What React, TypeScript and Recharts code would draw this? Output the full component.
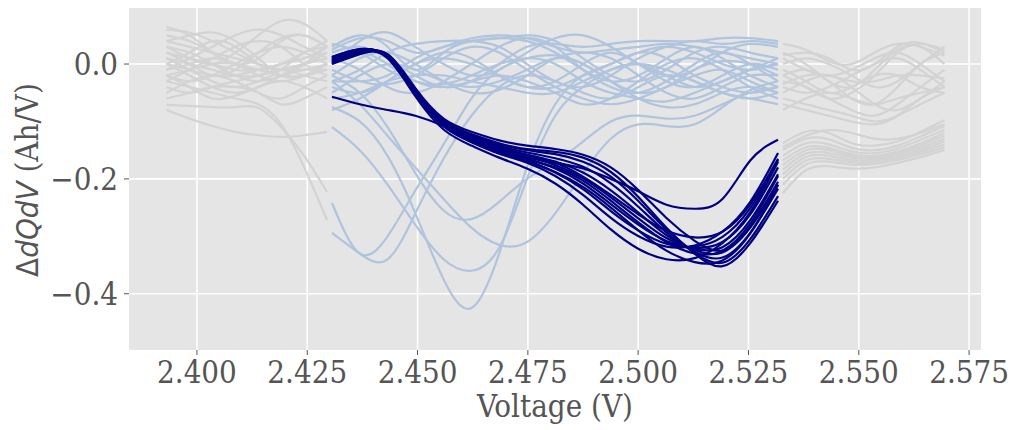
import React from 'react';
import { LineChart, Line, XAxis, YAxis, CartesianGrid, Label } from 'recharts';

// ---- axes ----
const X_TICKS = [2.4, 2.425, 2.45, 2.475, 2.5, 2.525, 2.55, 2.575];
const Y_TICKS = [0, -0.2, -0.4];
const X_DOMAIN = [2.3846, 2.5777];
const Y_DOMAIN = [-0.498, 0.0976];

// ---- x grids ----
const GRAY_LEFT_X = [2.3931, 2.3983, 2.4035, 2.4087, 2.4139, 2.4191, 2.4243, 2.4295];
const WINDOW_X = [2.4306, 2.4369, 2.4432, 2.4495, 2.4559, 2.4622, 2.4685, 2.4748, 2.4812, 2.4875, 2.4938, 2.5001, 2.5064, 2.5128, 2.5191, 2.5254, 2.5317];
const GRAY_RIGHT_X = [2.5328, 2.538, 2.5432, 2.5484, 2.5536, 2.5588, 2.564, 2.5694];

// ---- gray curves, left of the window ----
const GRAY_LEFT: number[][] = [
  [0.065, 0.05, 0.02, 0.0, 0.01, 0.04, 0.05, 0.03],
  [0.04, 0.05, 0.055, 0.04, 0.01, -0.02, -0.02, 0.0],
  [0.03, 0.01, 0.0, 0.02, 0.05, 0.075, 0.07, 0.04],
  [0.02, 0.0, -0.02, -0.01, 0.02, 0.045, 0.05, 0.03],
  [0.0, 0.02, 0.04, 0.03, 0.0, -0.02, 0.0, 0.03],
  [-0.01, 0.0, 0.01, 0.0, -0.02, -0.03, -0.02, 0.0],
  [0.02, 0.01, 0.0, -0.01, -0.01, 0.0, 0.01, 0.03],
  [0.03, 0.02, 0.0, -0.02, -0.03, -0.02, -0.01, -0.01],
  [-0.02, -0.03, -0.02, 0.0, 0.02, 0.03, 0.02, 0.0],
  [-0.03, -0.01, 0.01, 0.03, 0.04, 0.03, 0.0, -0.02],
  [-0.04, -0.05, -0.04, -0.03, -0.02, -0.01, -0.02, -0.03],
  [0.01, -0.01, -0.03, -0.04, -0.03, -0.01, 0.02, 0.03],
  [-0.05, -0.03, -0.02, -0.03, -0.05, -0.06, -0.04, -0.02],
  [0.0, -0.02, -0.04, -0.05, -0.04, -0.02, 0.0, 0.01],
  [-0.06, -0.05, -0.04, -0.04, -0.05, -0.07, -0.06, -0.04],
  [0.04, 0.03, 0.02, 0.01, 0.0, -0.01, -0.01, 0.0],
  [-0.02, -0.04, -0.06, -0.055, -0.04, -0.03, -0.04, -0.06],
  [0.05, 0.04, 0.02, 0.0, -0.01, 0.0, 0.02, 0.04],
  [-0.08, -0.095, -0.108, -0.118, -0.124, -0.127, -0.124, -0.118],
  [-0.071, -0.073, -0.075, -0.075, -0.076, -0.11, -0.16, -0.223],
  [-0.03, -0.04, -0.05, -0.06, -0.07, -0.105, -0.18, -0.272],
  [0.06, 0.055, 0.04, 0.02, 0.0, -0.01, 0.0, 0.02],
  [-0.01, 0.01, 0.03, 0.05, 0.06, 0.05, 0.03, 0.01],
  [0.01, 0.0, -0.01, -0.02, -0.02, -0.01, 0.0, 0.01],
  [0.0, -0.01, -0.02, -0.02, -0.01, 0.0, 0.01, 0.02],
  [-0.02, -0.01, 0.0, 0.0, -0.01, -0.02, -0.02, -0.01],
];

// ---- gray curves, right of the window ----
const GRAY_RIGHT: number[][] = [
  [0.035, 0.025, 0.005, 0.0, 0.02, 0.035, 0.03, 0.015],
  [0.02, 0.0, -0.03, -0.04, -0.01, 0.025, 0.03, 0.0],
  [0.0, 0.01, 0.0, -0.02, -0.04, -0.03, 0.0, 0.03],
  [-0.02, -0.01, -0.03, -0.06, -0.07, -0.04, 0.0, 0.02],
  [-0.04, -0.05, -0.04, -0.02, 0.0, 0.01, -0.01, -0.04],
  [-0.01, -0.03, -0.05, -0.04, -0.02, -0.02, -0.04, -0.05],
  [-0.05, -0.03, -0.02, -0.04, -0.07, -0.08, -0.06, -0.03],
  [-0.06, -0.07, -0.08, -0.09, -0.1, -0.09, -0.07, -0.05],
  [-0.03, -0.04, -0.06, -0.08, -0.09, -0.07, -0.04, -0.01],
  [-0.08, -0.06, -0.05, -0.06, -0.07, -0.06, -0.05, -0.04],
  [0.01, -0.01, -0.02, -0.01, 0.01, 0.02, 0.0, -0.03],
  [-0.07, -0.08, -0.09, -0.1, -0.105, -0.09, -0.06, -0.04],
  [-0.035, -0.02, -0.02, -0.03, -0.03, -0.02, -0.02, -0.025],
  [-0.02, -0.04, -0.06, -0.05, -0.02, 0.02, 0.035, 0.025],
  [0.015, 0.02, 0.01, -0.01, 0.0, 0.03, 0.037, 0.02],
  [-0.138, -0.118, -0.12, -0.138, -0.142, -0.135, -0.118, -0.098],
  [-0.145, -0.125, -0.115, -0.12, -0.13, -0.13, -0.12, -0.105],
  [-0.15, -0.13, -0.131, -0.146, -0.15, -0.142, -0.126, -0.108],
  [-0.16, -0.138, -0.14, -0.152, -0.155, -0.147, -0.132, -0.115],
  [-0.168, -0.145, -0.146, -0.157, -0.16, -0.152, -0.138, -0.12],
  [-0.176, -0.15, -0.15, -0.16, -0.162, -0.155, -0.142, -0.125],
  [-0.184, -0.156, -0.155, -0.163, -0.165, -0.158, -0.146, -0.13],
  [-0.192, -0.162, -0.16, -0.167, -0.168, -0.161, -0.15, -0.135],
  [-0.2, -0.168, -0.165, -0.171, -0.171, -0.164, -0.153, -0.14],
  [-0.21, -0.175, -0.17, -0.175, -0.174, -0.167, -0.157, -0.145],
  [-0.225, -0.185, -0.178, -0.182, -0.18, -0.172, -0.162, -0.15],
];

// ---- light blue curves inside the window ----
const LIGHT_BLUE: number[][] = [
  [0.03, 0.05, 0.03, -0.01, 0.02, 0.04, 0.045, 0.05, 0.04, 0.01, -0.02, -0.03, -0.01, 0.02, 0.03, 0.02, 0.01],
  [0.0, 0.04, 0.055, 0.03, 0.0, -0.02, -0.01, 0.02, 0.045, 0.05, 0.03, 0.0, -0.02, -0.01, 0.02, 0.035, 0.03],
  [-0.03, -0.01, 0.02, 0.035, 0.04, 0.04, 0.03, 0.0, -0.03, -0.04, -0.02, 0.01, 0.03, 0.04, 0.035, 0.04, 0.035],
  [-0.04, -0.05, -0.03, 0.0, 0.02, 0.01, -0.02, -0.04, -0.03, 0.0, 0.02, 0.0, -0.03, -0.04, -0.02, 0.0, -0.01],
  [0.01, -0.01, -0.04, -0.05, -0.03, 0.0, 0.03, 0.045, 0.03, -0.01, -0.04, -0.05, -0.03, 0.0, 0.02, 0.0, -0.03],
  [-0.02, 0.01, 0.02, 0.0, -0.03, -0.05, -0.045, -0.02, 0.01, 0.02, 0.01, -0.02, -0.05, -0.06, -0.04, -0.02, -0.02],
  [-0.06, -0.05, -0.03, -0.02, -0.02, -0.03, -0.04, -0.05, -0.05, -0.03, -0.01, 0.0, -0.01, -0.03, -0.05, -0.06, -0.07],
  [0.02, 0.03, 0.01, -0.02, -0.04, -0.03, 0.0, 0.03, 0.035, 0.03, 0.035, 0.04, 0.04, 0.04, 0.045, 0.045, 0.04],
  [-0.01, -0.03, -0.035, -0.02, 0.01, 0.03, 0.02, -0.01, -0.04, -0.06, -0.07, -0.06, -0.04, -0.02, -0.01, -0.03, -0.05],
  [-0.08, -0.06, -0.03, 0.0, 0.01, 0.0, -0.02, -0.04, -0.04, -0.02, 0.0, 0.02, 0.01, -0.02, -0.04, -0.05, -0.04],
  [0.035, 0.02, -0.01, -0.03, -0.035, -0.02, 0.0, 0.01, 0.0, -0.03, -0.05, -0.06, -0.065, -0.05, -0.03, -0.01, 0.0],
  [-0.05, -0.02, 0.0, -0.01, -0.03, -0.04, -0.03, -0.01, 0.01, 0.0, -0.03, -0.06, -0.075, -0.07, -0.05, -0.04, -0.05],
  [0.0, 0.02, 0.0, -0.03, -0.04, -0.03, -0.02, -0.03, -0.05, -0.07, -0.06, -0.03, 0.0, 0.01, -0.01, -0.04, -0.06],
  [-0.03, -0.03, -0.02, 0.01, 0.03, 0.04, 0.045, 0.04, 0.02, -0.01, -0.03, -0.02, 0.01, 0.03, 0.01, -0.02, -0.04],
  [0.025, 0.045, 0.04, 0.02, 0.03, 0.045, 0.05, 0.045, 0.03, 0.02, 0.025, 0.03, 0.035, 0.03, 0.02, 0.01, 0.0],
  [-0.242, -0.33, -0.3, -0.22, -0.14, -0.06, -0.01, 0.01, 0.015, 0.0, -0.03, -0.05, -0.04, -0.01, 0.005, 0.0, -0.02],
  [-0.294, -0.33, -0.34, -0.26, -0.165, -0.09, -0.04, -0.02, -0.03, -0.05, -0.06, -0.04, -0.02, -0.03, -0.05, -0.06, -0.05],
  [-0.075, -0.1, -0.16, -0.26, -0.375, -0.425, -0.33, -0.18, -0.07, -0.02, 0.0, 0.02, 0.03, 0.02, 0.0, -0.01, 0.0],
  [-0.11, -0.15, -0.21, -0.28, -0.34, -0.36, -0.32, -0.2, -0.09, -0.04, -0.01, 0.0, -0.02, -0.04, -0.03, -0.01, 0.01],
  [-0.02, -0.05, -0.11, -0.19, -0.255, -0.27, -0.24, -0.2, -0.17, -0.135, -0.1, -0.09, -0.095, -0.09, -0.07, -0.05, -0.04],
  [-0.03, -0.07, -0.125, -0.18, -0.235, -0.285, -0.315, -0.31, -0.26, -0.19, -0.13, -0.105, -0.108, -0.105, -0.075, -0.045, -0.03],
];

// ---- navy curves inside the window ----
const NAVY: number[][] = [
  [0.012, 0.026, 0.012, -0.052, -0.108, -0.136, -0.156, -0.172, -0.195, -0.228, -0.268, -0.3, -0.318, -0.316, -0.292, -0.24, -0.155],
  [0.01, 0.025, 0.013, -0.051, -0.107, -0.134, -0.153, -0.168, -0.189, -0.218, -0.256, -0.29, -0.313, -0.318, -0.301, -0.251, -0.167],
  [0.008, 0.023, 0.013, -0.05, -0.105, -0.132, -0.151, -0.165, -0.182, -0.208, -0.244, -0.28, -0.308, -0.32, -0.31, -0.262, -0.18],
  [0.007, 0.022, 0.014, -0.048, -0.104, -0.13, -0.148, -0.161, -0.176, -0.199, -0.232, -0.269, -0.303, -0.322, -0.319, -0.272, -0.192],
  [0.005, 0.021, 0.014, -0.047, -0.102, -0.128, -0.145, -0.158, -0.17, -0.189, -0.22, -0.259, -0.298, -0.324, -0.328, -0.283, -0.205],
  [0.003, 0.019, 0.015, -0.046, -0.101, -0.126, -0.143, -0.154, -0.164, -0.179, -0.208, -0.249, -0.293, -0.327, -0.337, -0.294, -0.217],
  [0.001, 0.018, 0.016, -0.045, -0.099, -0.123, -0.14, -0.15, -0.157, -0.17, -0.196, -0.239, -0.288, -0.329, -0.346, -0.305, -0.23],
  [0.0, 0.017, 0.016, -0.044, -0.098, -0.122, -0.138, -0.148, -0.153, -0.163, -0.188, -0.232, -0.285, -0.33, -0.352, -0.312, -0.238],
  [0.012, 0.026, 0.01, -0.056, -0.114, -0.142, -0.163, -0.182, -0.208, -0.245, -0.288, -0.322, -0.34, -0.338, -0.312, -0.258, -0.17],
  [0.002, 0.019, 0.017, -0.042, -0.095, -0.118, -0.133, -0.142, -0.148, -0.158, -0.18, -0.22, -0.268, -0.308, -0.325, -0.285, -0.21],
  [0.006, 0.021, 0.013, -0.05, -0.108, -0.135, -0.155, -0.17, -0.188, -0.214, -0.25, -0.29, -0.325, -0.345, -0.342, -0.295, -0.21],
  [0.009, 0.024, 0.014, -0.048, -0.102, -0.128, -0.146, -0.158, -0.172, -0.196, -0.228, -0.262, -0.29, -0.302, -0.292, -0.245, -0.165],
  [0.004, 0.02, 0.012, -0.05, -0.106, -0.133, -0.152, -0.166, -0.18, -0.203, -0.238, -0.276, -0.31, -0.33, -0.325, -0.278, -0.195],
  [-0.057, -0.07, -0.08, -0.09, -0.108, -0.13, -0.15, -0.163, -0.172, -0.182, -0.2, -0.222, -0.245, -0.252, -0.235, -0.168, -0.132],
];

const COLORS = { gray: '#d3d3d3', lightBlue: '#b0c4de', navy: '#000080' };

const toPoints = (xs: number[], ys: number[]) => xs.map((x, i) => ({ x, y: ys[i] }));

const SERIF = '"DejaVu Serif Condensed", "DejaVu Serif", serif';
const SANS = '"DejaVu Sans Condensed", "DejaVu Sans", sans-serif';
const FS = 31;

const fmtY = (v: number) => (v === 0 ? '0.0' : v.toFixed(1).replace('-', '\u2212'));

export default function App() {
  const groups: { xs: number[]; rows: number[][]; color: string; key: string; w: number }[] = [
    { xs: GRAY_LEFT_X, rows: GRAY_LEFT, color: COLORS.gray, key: 'gl', w: 2.2 },
    { xs: GRAY_RIGHT_X, rows: GRAY_RIGHT, color: COLORS.gray, key: 'gr', w: 2.2 },
    { xs: WINDOW_X, rows: LIGHT_BLUE, color: COLORS.lightBlue, key: 'lb', w: 2.2 },
    { xs: WINDOW_X, rows: NAVY, color: COLORS.navy, key: 'nv', w: 2.2 },
  ];
  return (
    <LineChart width={1009} height={422} margin={{ top: 0, right: 36, bottom: 0, left: 0 }}>
      <CartesianGrid fill="#e5e5e5" stroke="#ffffff" strokeWidth={1.6} horizontalValues={Y_TICKS} verticalValues={X_TICKS} />
      <XAxis
        dataKey="x"
        type="number"
        domain={X_DOMAIN}
        ticks={X_TICKS}
        allowDataOverflow
        axisLine={false}
        tickSize={5}
        tickMargin={6}
        tickLine={{ stroke: '#555555' }}
        tick={{ fill: '#555555', fontSize: FS, fontFamily: SERIF }}
        tickFormatter={(v: number) => v.toFixed(3)}
        height={80}
      >
        <Label
          content={() => (
            <text x={547} y={409} textAnchor="middle" fill="#555555" fontSize={FS} fontFamily={SERIF}>
              Voltage (V)
            </text>
          )}
        />
      </XAxis>
      <YAxis
        type="number"
        domain={Y_DOMAIN}
        ticks={Y_TICKS}
        allowDataOverflow
        axisLine={false}
        tickSize={5}
        tickMargin={6}
        tickLine={{ stroke: '#555555' }}
        tick={{ fill: '#555555', fontSize: FS, fontFamily: SERIF }}
        tickFormatter={fmtY}
        width={121}
      >
        <Label
          content={() => (
            <text
              x={30}
              y={172}
              transform="rotate(-90, 30, 172)"
              textAnchor="middle"
              fill="#555555"
              fontSize={FS}
              fontFamily={SERIF}
            >
              <tspan fontFamily={SANS}>Δ</tspan>
              <tspan fontFamily={SANS} fontStyle="italic">dQdV</tspan>
              <tspan> (Ah/V)</tspan>
            </text>
          )}
        />
      </YAxis>
      {groups.map((g) =>
        g.rows.map((row, i) => (
          <Line
            key={`${g.key}${i}`}
            data={toPoints(g.xs, row)}
            dataKey="y"
            type="natural"
            stroke={g.color}
            strokeWidth={g.w}
            dot={false}
            activeDot={false}
            isAnimationActive={false}
            legendType="none"
          />
        ))
      )}
    </LineChart>
  );
}
